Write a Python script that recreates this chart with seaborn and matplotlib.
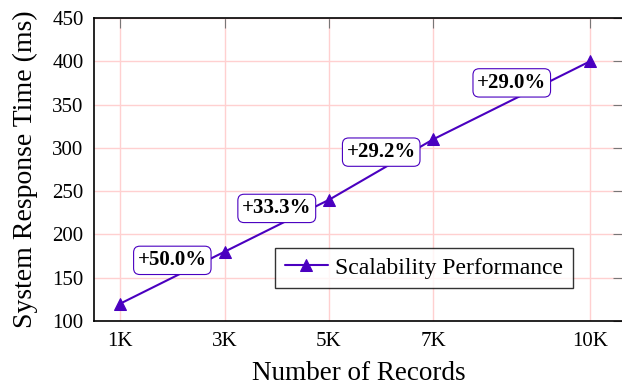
import matplotlib
matplotlib.use("Agg")
import matplotlib.pyplot as plt
import seaborn as sns
import pandas as pd

records = [1, 3, 5, 7, 10]
record_labels = ["1K", "3K", "5K", "7K", "10K"]
response_ms = [120, 180, 240, 310, 400]
growth_labels = ["+50.0%", "+33.3%", "+29.2%", "+29.0%"]
y_ticks = [100, 150, 200, 250, 300, 350, 400, 450]

sns.set_theme(style="white")
plt.rcParams["font.family"] = ["Liberation Serif", "DejaVu Serif"]
plt.rcParams["text.color"] = "black"
plt.rcParams["axes.labelcolor"] = "black"
plt.rcParams["xtick.labelcolor"] = "black"
plt.rcParams["ytick.labelcolor"] = "black"

LINE = "#4A00C0"
W, H = 622, 387
fig = plt.figure(figsize=(W / 100, H / 100), dpi=100)
left, right, top, bottom = 94, 623, 18, 321
ax = fig.add_axes([left / W, 1 - bottom / H, (right - left) / W, (bottom - top) / H])

df = pd.DataFrame({"records": records, "ms": response_ms})
sns.lineplot(data=df, x="records", y="ms", ax=ax, color=LINE, linewidth=1.5,
             marker="^", markersize=9, markeredgecolor=LINE,
             label="Scalability Performance", zorder=3)

ax.set_xlim(0.5, 10.63)
ax.set_ylim(100, 450)
ax.set_xticks(records)
ax.set_xticklabels(record_labels)
ax.set_yticks(y_ticks)
ax.grid(True, color="#ffd0d0", linewidth=1.0, zorder=0)
ax.set_axisbelow(True)
ax.tick_params(direction="in", length=7, width=0.8, color="#777777",
               labelcolor="black", top=True, right=True, labelsize=15)
ax.tick_params(axis="x", pad=8)
ax.tick_params(axis="y", pad=7.5)
for s in ax.spines.values():
    s.set_color("black")
    s.set_linewidth(1.2)

ax.set_xlabel("Number of Records", fontsize=19.5, labelpad=7, color="black")
ax.set_ylabel("System Response Time (ms)", fontsize=20, labelpad=10, color="black")

for i, lab in enumerate(growth_labels):
    mx = (records[i] + records[i + 1]) / 2
    my = (response_ms[i] + response_ms[i + 1]) / 2
    ax.annotate(lab, (mx, my), xytext=(0, 12.5), textcoords="offset points",
                ha="center", va="center", fontsize=15, fontweight="bold",
                color="black",
                bbox=dict(boxstyle="round,pad=0.2,rounding_size=0.3",
                          fc="white", ec=LINE, lw=0.8), zorder=5)

leg = ax.legend(loc="lower right", bbox_to_anchor=(0.905, 0.109), borderaxespad=0,
                fontsize=17, frameon=True, fancybox=False, handlelength=1.85,
                handletextpad=0.3, borderpad=0.4)
leg.get_frame().set_edgecolor("black")
leg.get_frame().set_linewidth(1.0)
for t in leg.get_texts():
    t.set_color("black")

fig.savefig("out.png", dpi=100)
